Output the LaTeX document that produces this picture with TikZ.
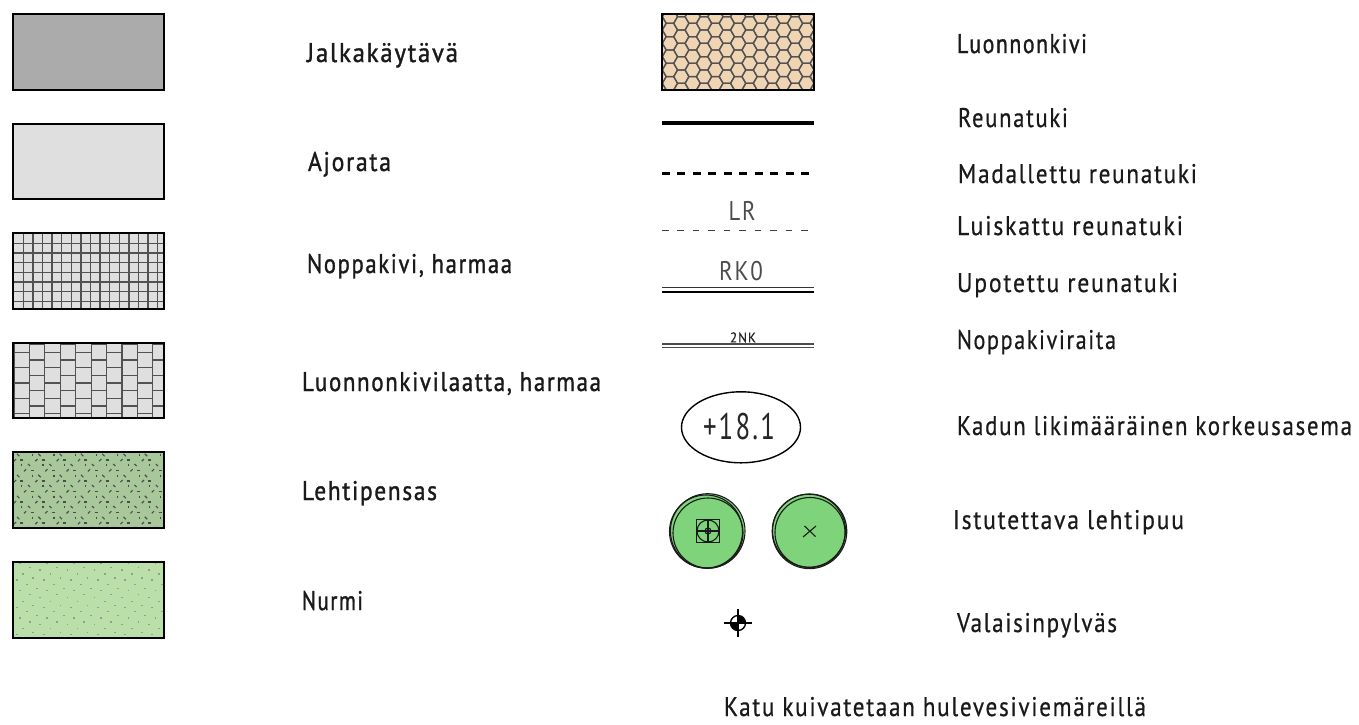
\documentclass[tikz,border=0pt]{standalone}
\usepackage{fontspec}
\setmainfont[LetterSpace=6,FakeStretch=0.8,FakeBold=0.5]{PT Sans}
\newfontfamily\boldlab[LetterSpace=6,FakeStretch=0.8,FakeBold=1.2]{PT Sans}
\newfontfamily\thinlab[LetterSpace=6,FakeStretch=0.75]{PT Sans}
\definecolor{gDark}{HTML}{ABABAB}
\definecolor{gLight}{HTML}{DFDFDF}
\definecolor{shrubG}{HTML}{A8C79A}
\definecolor{lawnG}{HTML}{BBDFA8}
\definecolor{stoneT}{HTML}{F0D5B5}
\definecolor{treeG}{HTML}{7FD37B}
\definecolor{ink}{HTML}{1A1A1A}
\tikzset{
  swatch/.style={draw=black,line width=2.4pt},
  hatchline/.style={draw=black!68,line width=1.25pt},
  labeltext/.style={anchor=base west,inner sep=0pt,outer sep=0pt,text=ink,font=\fontsize{27}{27}\selectfont},
  labelbold/.style={labeltext,font=\boldlab\fontsize{27}{27}\selectfont},
  cadtext/.style={inner sep=0pt,outer sep=0pt,text=black!70},
  treecircle/.style={draw=ink,line width=1.1pt},
  thinsym/.style={draw=ink,line width=1.1pt},
}
\newcommand{\labl}[6]{\node[#1] (#2) at (#3,#4) {\resizebox{#5pt}{\height}{#6}};}
\begin{document}
\begin{tikzpicture}[x=1pt,y=-1pt]
\useasboundingbox (0,0) rectangle (1359,724);
% plain swatches
\fill[gDark] (13,14) rectangle (164,90);
\fill[gLight] (13,124) rectangle (164,199);
% grid
\fill[gLight] (13,233) rectangle (164,309);
\begin{scope}
\clip (13,233) rectangle (164,309);
\foreach \k in {0,...,15} \draw[hatchline] ({13.7+9.6*\k},233) -- ({13.7+9.6*\k},309);
\foreach \k in {0,...,7} \draw[hatchline] (13,{243.3+9.65*\k}) -- (164,{243.3+9.65*\k});
\end{scope}
% bricks
\fill[gLight] (13,343) rectangle (164,418);
\begin{scope}
\clip (13,343) rectangle (164,418);
\foreach \k in {0,...,9} {
  \draw[hatchline] ({14+15.43*\k},343) -- ({14+15.43*\k},418);
  \pgfmathsetmacro{\ofs}{mod(\k,2)*7.7}
  \foreach \r in {-1,0,...,5}
    \draw[hatchline] ({14+15.43*\k},{352.3+\ofs+15.3*\r}) -- ({14+15.43*(\k+1)},{352.3+\ofs+15.3*\r});
}
\end{scope}
% shrub
\fill[shrubG] (13,452) rectangle (164,528);
\begin{scope}
\clip (13,452) rectangle (164,528);
\foreach \k in {-1,...,7} \foreach \r in {0,...,3} {
  \pgfmathsetmacro{\xx}{21.3*\k}
  \pgfmathsetmacro{\yy}{455+21*\r}
  \begin{scope}[shift={(\xx,\yy)},draw=black!70,line width=1.1pt]
    \draw (17,-1.2) -- (19.4,1.2);  \draw (32.7,-1.4) -- (32.7,1.4);
    \draw (14,6.2) -- (16.2,4);    \draw (20.3,5) -- (23.3,5);
    \draw (21.7,8.6) -- (21.7,11.4); \draw (28,9) -- (30.2,11);
    \draw (24,16.4) -- (26.2,14.2); \draw (30.8,15.3) -- (33.8,15.3);
  \end{scope}
}
\end{scope}
% lawn
\fill[lawnG] (13,562) rectangle (164,638);
\begin{scope}
\clip (13,562) rectangle (164,638);
\foreach \k in {-1,...,6} \foreach \r in {0,...,2} {
  \pgfmathsetmacro{\xx}{27.1*\k}
  \pgfmathsetmacro{\yy}{563.3+27.3*\r}
  \begin{scope}[shift={(\xx,\yy)}]
    \foreach \a/\b in {20/0,30/4,40.3/6.7,23.3/10.7,33.3/14.7,16.7/16.7,26.7/21,36.7/25}
      \fill[black!40] ({\a-0.9},{\b-0.7}) rectangle ({\a+0.9},{\b+0.7});
  \end{scope}
}
\end{scope}
\foreach \ya/\yb in {14/90,124/199,233/309,343/418,452/528,562/638}
  \draw[swatch] (13,\ya) rectangle (164,\yb);
% stone
\fill[stoneT] (662,14) rectangle (814,90);
\begin{scope}
\clip (662,14) rectangle (814,90);
\foreach \c in {-1,...,14} {
  \pgfmathsetmacro{\cx}{681.3+11.37*(\c-1)}
  \pgfmathsetmacro{\cy}{mod(\c+1,2)*(-6.67)}
  \foreach \r in {-1,...,7} {
    \pgfmathsetmacro{\yy}{23.3+13.33*\r+\cy}
    \draw[draw=black!68,line width=1.25pt] ({\cx-7.7},\yy) -- ({\cx-3.85},{\yy-6.67}) -- ({\cx+3.85},{\yy-6.67}) -- ({\cx+7.7},\yy) -- ({\cx+3.85},{\yy+6.67}) -- ({\cx-3.85},{\yy+6.67}) -- cycle;
  }
}
\end{scope}
\draw[swatch] (662,14) rectangle (814,90);
% lines
\coordinate (ra) at (662,123.3); \coordinate (rb) at (814,123.3);
\draw[black,line width=4.3pt] (ra) -- (rb);
\coordinate (ma) at (662,173.5); \coordinate (mb) at (811,173.5);
\draw[black,line width=3.9pt,dash pattern=on 8pt off 7.45pt] (ma) -- (mb);
\coordinate (la) at (662,230); \coordinate (lb) at (811,230);
\draw[black!75,line width=1pt,dash pattern=on 6.5pt off 8.95pt] (la) -- (lb);
\node[cadtext,font=\thinlab\fontsize{27}{27}\selectfont] (lrtext) at (742,211) {\resizebox{27pt}{\height}{LR}};
\coordinate (ua) at (662,287.2); \coordinate (ub) at (814,287.2);
\coordinate (uc) at (662,292); \coordinate (ud) at (814,292);
\draw[black!80,line width=1.1pt] (ua) -- (ub);
\draw[black,line width=1.4pt] (uc) -- (ud);
\node[cadtext,font=\thinlab\fontsize{27}{27}\selectfont] (rktext) at (741,271) {\resizebox{44pt}{\height}{RK0}};
\coordinate (na) at (662,344); \coordinate (nb) at (814,344);
\coordinate (nc) at (662,347.3); \coordinate (nd) at (814,347.3);
\draw[black!70,line width=1.1pt] (na) -- (nb);
\draw[black!70,line width=1.1pt] (nc) -- (nd);
\node[cadtext,text=black!85,font=\fontsize{14}{14}\selectfont] (nktext) at (743,337.5) {\resizebox{26pt}{\height}{2NK}};
% ellipse
\draw[draw=black,line width=1.4pt,fill=white] (741,427.3) ellipse [x radius=59.5,y radius=35.5];
\node[cadtext,text=black!85,font=\thinlab\fontsize{37}{37}\selectfont] (elev) at (739,427) {\resizebox{72pt}{\height}{+18.1}};
% trees
\fill[treeG] (707,531.3) circle (37.5);
\draw[treecircle] (707.7,531) circle (37.3);
\draw[treecircle] (706,531.5) circle (36.5);
\draw[treecircle] (708,533) circle (35);
\draw[thinsym] (696.3,519.5) rectangle (719.5,542.5);
\draw[thinsym] (708,531) circle (11);
\draw[thinsym] (697,531) -- (719,531) (708,520) -- (708,542);
\draw[thinsym] (708,531) circle (3);
\fill[treeG] (809.5,531.3) circle (37.5);
\draw[treecircle] (809.5,531.3) circle (37.3);
\draw[treecircle] (809,530.7) circle (36.5);
\draw[treecircle] (810,532.5) circle (35);
\draw[thinsym] (803,537) -- (816,526) (804.5,526) -- (815.5,536.5);
% lamp
\draw[black,line width=1.4pt] (738,623) circle (7.5);
\fill[black] (738,623) -- (730.5,623) arc[start angle=180,end angle=90,radius=7.5] -- cycle;
\fill[black] (738,623) -- (745.5,623) arc[start angle=0,end angle=-90,radius=7.5] -- cycle;
\draw[black,line width=1.5pt] (724,623) -- (752,623) (738,609) -- (738,637);
% labels
\labl{labelbold}{t1}{307}{62}{151}{Jalkakäytävä}
\labl{labelbold}{t2}{308}{171}{83}{Ajorata}
\labl{labelbold}{t3}{307}{273}{205}{Noppakivi, harmaa}
\labl{labelbold}{t4}{302}{391}{299}{Luonnonkivilaatta, harmaa}
\labl{labelbold}{t5}{302}{500}{135}{Lehtipensas}
\labl{labelbold}{t6}{302}{610}{61}{Nurmi}
\labl{labelbold}{t7}{957}{53}{130}{Luonnonkivi}
\labl{labeltext}{t8}{958}{127}{110}{Reunatuki}
\labl{labeltext}{t9}{958}{183}{239}{Madallettu reunatuki}
\labl{labeltext}{t10}{957}{235}{226}{Luiskattu reunatuki}
\labl{labeltext}{t11}{957}{292}{221}{Upotettu reunatuki}
\labl{labeltext}{t12}{957}{349}{159}{Noppakiviraita}
\labl{labeltext}{t13}{957}{435}{395}{Kadun likimääräinen korkeusasema}
\labl{labeltext}{t14}{953}{529}{231}{Istutettava lehtipuu}
\labl{labeltext}{t15}{957}{632}{160}{Valaisinpylväs}
\labl{labeltext}{t16}{724}{716}{422}{Katu kuivatetaan hulevesiviemäreillä}
\end{tikzpicture}
\end{document}
